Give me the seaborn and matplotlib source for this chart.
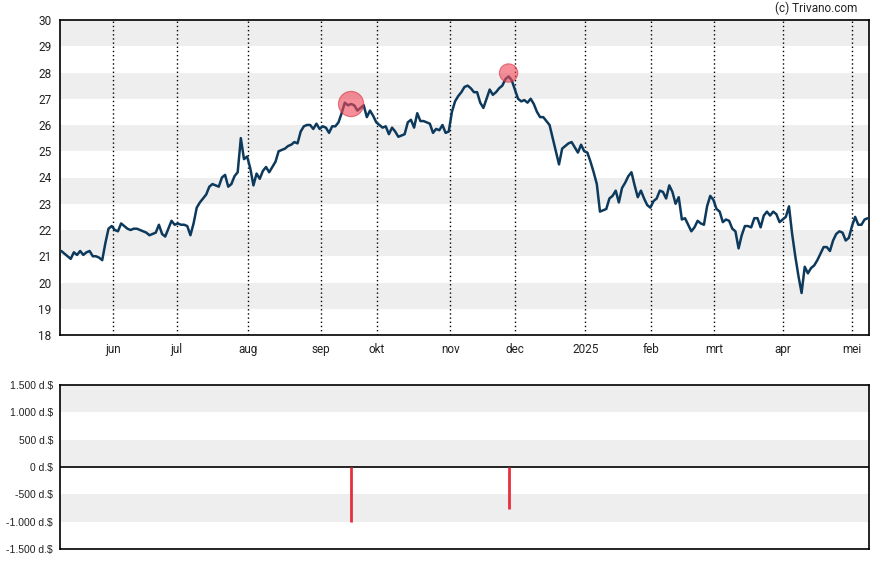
import matplotlib
matplotlib.use("Agg")
import matplotlib.pyplot as plt
import seaborn as sns
import numpy as np
import pandas as pd

# ---- data ----
prices = [
    # mei - begin aug
    21.2, 21.1, 21.0, 20.9, 21.15, 21.05, 21.2, 21.05, 21.15, 21.2, 21.0, 21.0, 20.95, 20.85,
    21.5, 22.05, 22.15, 22.0, 21.95, 22.25, 22.15, 22.05, 22.0, 22.05, 22.05, 22.0, 21.95, 21.9,
    21.8, 21.85, 21.9, 22.2, 21.85, 21.75, 22.05, 22.35, 22.2, 22.25, 22.2, 22.2, 22.15, 21.8,
    22.25, 22.85,
    # jul - sep
    23.05, 23.2, 23.35, 23.65, 23.75, 23.7, 23.65, 24.0, 24.1, 23.65, 23.75, 24.05, 24.2, 25.5,
    24.7, 24.8, 24.35, 23.7, 24.15, 23.95, 24.25, 24.4, 24.2, 24.4, 24.6, 25.0, 25.05, 25.1,
    25.2, 25.25, 25.35, 25.3, 25.75, 25.95, 26.0, 26.0, 25.85, 26.05, 25.85, 25.95, 25.9, 25.7,
    25.95,
    # sep - nov
    25.95, 26.1, 26.45, 26.85, 26.75, 26.8, 26.75, 26.55, 26.65, 26.75, 26.3, 26.55, 26.35, 26.1,
    26.0, 25.9, 25.95, 25.65, 25.9, 25.75, 25.55, 25.6, 25.65, 26.1, 26.2, 25.9, 26.45, 26.15,
    26.15, 26.1, 26.05, 25.7, 25.85, 25.8, 26.0, 25.7, 25.75, 26.5, 26.9, 27.1, 27.25, 27.45,
    27.5,
    # nov - jan
    27.4, 27.25, 27.25, 26.85, 26.65, 27.0, 27.35, 27.15, 27.25, 27.4, 27.5, 27.75, 27.85, 27.7,
    27.35, 27.0, 26.9, 26.95, 26.85, 27.0, 26.8, 26.5, 26.3, 26.3, 26.15, 26.0, 25.5, 25.0,
    24.5, 25.1, 25.2, 25.3, 25.35, 25.15, 24.95, 25.25, 25.0, 24.95, 24.6, 24.2,
    # jan - mrt
    23.75, 22.7, 22.75, 22.8, 23.2, 23.3, 23.5, 23.05, 23.6, 23.8, 24.05, 24.2, 23.7, 23.25,
    23.5, 23.2, 22.95, 22.85, 23.1, 23.2, 23.5, 23.45, 23.2, 23.7, 23.45, 23.0, 23.25, 22.4,
    22.45, 22.2, 21.95, 22.1, 22.35, 22.25, 22.2, 22.9, 23.3, 23.15, 22.8, 22.7, 22.3, 22.4,
    22.35, 22.05, 21.95,
    # mrt - mei
    21.3, 21.8, 22.15, 22.15, 22.1, 22.45, 22.45, 22.1, 22.55, 22.7, 22.55, 22.7, 22.6, 22.3,
    22.4, 22.5, 22.9, 21.85, 21.0, 20.25, 19.6, 20.6, 20.35, 20.55, 20.65, 20.85, 21.1, 21.35,
    21.35, 21.2, 21.6, 21.85, 21.95, 21.9, 21.6, 21.7, 22.15, 22.5, 22.2, 22.2, 22.4, 22.45,
]

month_labels = ["jun", "jul", "aug", "sep", "okt", "nov", "dec", "2025", "feb", "mrt", "apr", "mei"]
month_pos = [16.4, 36.7, 59.2, 82.3, 100.1, 123.5, 144.1, 166.3, 187.2, 207.2, 229.0, 250.9]

trade_idx = [92, 142]
trade_price = [26.8, 27.98]
trade_value = [-1000, -775]
trade_size = [330, 175]

price_ticks = list(range(18, 31))
volume_ticks = [-1500, -1000, -500, 0, 500, 1000, 1500]
volume_labels = ["-1.500 d.$", "-1.000 d.$", "-500 d.$", "0 d.$", "500 d.$", "1.000 d.$", "1.500 d.$"]

# ---- style ----
sns.set_theme(style="white")
plt.rcParams['font.family'] = ['Roboto', 'DejaVu Sans']

W, H = 888, 565
fig = plt.figure(figsize=(W / 100, H / 100), dpi=100)
ax = fig.add_axes([60 / W, 1 - 335 / H, 809 / W, 315 / H])
ax2 = fig.add_axes([60 / W, 1 - 549 / H, 809 / W, 164 / H])

band = '#eeeeee'
line_col = '#0d3a5c'
red = '#e8303c'
txt = '#222222'

# ---- price panel ----
df = pd.DataFrame({"idx": np.arange(len(prices)), "price": prices})
for lo in range(19, 30, 2):
    ax.axhspan(lo, lo + 1, color=band, lw=0, zorder=0)
for m in month_pos:
    ax.axvline(m, color='black', ls=(0, (1, 2)), lw=1.0, zorder=1)
sns.lineplot(data=df, x="idx", y="price", ax=ax, color=line_col, lw=1.8, zorder=3)
ax.scatter(trade_idx, trade_price, s=trade_size, color='#ef4a5a', alpha=0.62,
           edgecolor='#d8303e', linewidth=0.8, zorder=4)

ax.set_xlim(-0.4, 256.4)
ax.set_ylim(18, 30)
ax.set_yticks(price_ticks)
ax.set_yticklabels([str(t) for t in price_ticks])
ax.set_xticks(month_pos)
ax.set_xticklabels(month_labels)
ax.set_xlabel("")
ax.set_ylabel("")
ax.tick_params(axis='both', which='both', length=4, width=1, color='black',
               labelsize=8.5, labelcolor=txt, pad=2, direction='out')
ax.tick_params(axis='x', length=0, pad=6)
for s in ax.spines.values():
    s.set_color('black')
    s.set_linewidth(1.2)

# ---- volume panel ----
for lo in (1000, 0, -1000):
    ax2.axhspan(lo, lo + 500, color=band, lw=0, zorder=0)
ax2.axhline(0, color='black', lw=1.2, zorder=2)
ax2.vlines(trade_idx, 0, trade_value, color=red, lw=2, zorder=3)
ax2.set_xlim(-0.4, 256.4)
ax2.set_ylim(-1500, 1500)
ax2.set_xticks([])
ax2.set_yticks(volume_ticks)
ax2.set_yticklabels(volume_labels, family=['Liberation Sans', 'DejaVu Sans'])
ax2.tick_params(axis='y', length=4, width=1, color='black', labelsize=7.5,
                labelcolor=txt, pad=1, direction='out')
for s in ax2.spines.values():
    s.set_color('black')
    s.set_linewidth(1.2)

fig.text(857 / W, 1 - 8 / H, "(c) Trivano.com", ha='right', va='center',
         fontsize=8.5, color=txt)

fig.savefig("out.png", dpi=100)
